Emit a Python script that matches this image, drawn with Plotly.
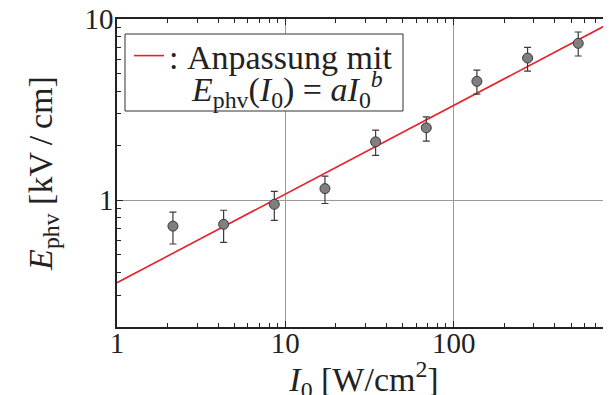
import numpy as np
import plotly.graph_objects as go

# Data
intensity = [2.15, 4.3, 8.6, 17.2, 34.4, 68.8, 137.5, 275, 550]
field = [0.72, 0.737, 0.95, 1.16, 2.10, 2.51, 4.53, 6.09, 7.34]
err_plus = [0.14, 0.144, 0.17, 0.20, 0.34, 0.375, 0.70, 0.89, 1.14]
err_minus = [0.146, 0.151, 0.175, 0.20, 0.33, 0.39, 0.68, 0.93, 1.09]
fit_a = 0.351
fit_b = 0.489
fit_x = [1, 870]

fit_y = [fit_a * x ** fit_b for x in fit_x]

FONT = "Liberation Serif"
fig = go.Figure()

fig.add_trace(go.Scatter(
    x=fit_x, y=fit_y, mode="lines",
    line=dict(color="#e5222b", width=1.6),
    name=":\u00a0Anpassung mit",
    showlegend=True,
))

fig.add_trace(go.Scatter(
    x=intensity, y=field, mode="markers",
    marker=dict(size=10, color="#7f7f7f", line=dict(color="#3a3a3a", width=1)),
    error_y=dict(type="data", symmetric=False, array=err_plus, arrayminus=err_minus,
                 color="#3a3a3a", thickness=1.2, width=3.5),
    showlegend=False,
))

minor_x = [m * 10 ** d for d in range(0, 3) for m in range(2, 10)]
minor_y = [m * 10 ** d for d in range(-1, 1) for m in range(2, 10)]

# legend frame (pixel layout of the plot area: left 117, top 19, width 494, height 308)
def px_x(p):
    return (p - 117) / 494

def px_y(p):
    return (327 - p) / 308

fig.add_shape(type="rect", xref="paper", yref="paper",
              x0=px_x(125), x1=px_x(403), y0=px_y(111), y1=px_y(34),
              line=dict(color="#333", width=1), fillcolor="white", layer="above")

fig.add_annotation(
    text="<i>E</i><sub>phv</sub>(<i>I</i><sub>0</sub>) = <i>aI</i><sub>0</sub><sup><i>b</i></sup>",
    xref="paper", yref="paper", x=px_x(189), y=px_y(89),
    xanchor="left", yanchor="middle", showarrow=False,
    font=dict(family=FONT, size=34, color="#222"),
)

fig.update_layout(
    width=611, height=395,
    margin=dict(l=109, r=8, t=11, b=76, autoexpand=False),
    paper_bgcolor="white", plot_bgcolor="white",
    font=dict(family=FONT, size=29, color="#222"),
    showlegend=True,
    legend=dict(x=px_x(129), y=px_y(27), xanchor="left", yanchor="top",
                bgcolor="rgba(0,0,0,0)", borderwidth=0,
                font=dict(family=FONT, size=34, color="#222"),
                itemwidth=30, tracegroupgap=0),
    xaxis=dict(
        type="log", range=[0, 2.935], automargin=False,
        tickvals=[1, 10, 100], ticktext=["1", "10", "100"],
        ticks="inside", ticklen=6, tickcolor="#222", tickwidth=1,
        ticklabelstandoff=-11, ticklabeloverflow="allow",
        showline=True, linecolor="#222", linewidth=1.5, mirror="ticks",
        showgrid=True, gridcolor="#999", gridwidth=1,
        minor=dict(tickvals=minor_x, ticks="inside", ticklen=4, tickcolor="#222", showgrid=False),
        title=dict(text="<i>I</i><sub>0</sub> [W/cm<sup>2</sup>]", standoff=11,
                   font=dict(family=FONT, size=34)),
        zeroline=False,
    ),
    yaxis=dict(
        type="log", range=[np.log10(0.2), 1], automargin=False,
        tickvals=[1, 10], ticktext=["1", "10"],
        ticks="inside", ticklen=6, tickcolor="#222", tickwidth=1,
        ticklabelstandoff=-4, ticklabeloverflow="allow",
        showline=True, linecolor="#222", linewidth=1.5, mirror=False,
        showgrid=True, gridcolor="#999", gridwidth=1,
        minor=dict(tickvals=minor_y, ticks="inside", ticklen=4, tickcolor="#222", showgrid=False),
        title=dict(text="<i>E</i><sub>phv</sub> [kV\u2009/\u2009cm]", standoff=22,
                   font=dict(family=FONT, size=34)),
        zeroline=False,
    ),
)

fig.write_html("out.html")
